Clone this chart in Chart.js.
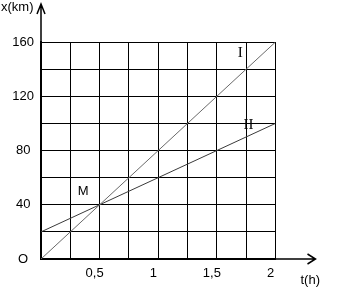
<!DOCTYPE html>
<html>
<head>
<meta charset="utf-8">
<script src="https://cdn.jsdelivr.net/npm/chart.js@4"></script>
<style>
  html, body { margin: 0; padding: 0; background: #fff; }
  #wrap { width: 337px; height: 295px; }
</style>
</head>
<body>
<div id="wrap"><canvas id="graph" width="337" height="295"></canvas></div>
<script>
// --------- Data ---------
const tPoints = [0, 2];          // t (h)
const lineI = [0, 160];          // x (km) for line I
const lineII = [20, 100];        // x (km) for line II
const tTicks = ["", "0,5", "1", "1,5", "2"];  // every 0.5 h
const xTicks = ["O", "40", "80", "120", "160"]; // every 40 km

// text marks on the graph: [label, t, x, font]
const marks = [
  ["I", 1.7, 152, "15px 'Liberation Serif'"],
  ["II", 1.77, 99, "15px 'Liberation Serif'"],
  ["M", 0.36, 50, "13px 'Liberation Sans'"]
];

const toXY = (ys) => tPoints.map((t, i) => ({ x: t, y: ys[i] }));

// --------- Arrows, axis names and labels ---------
const decorPlugin = {
  id: "decor",
  afterDraw(chart) {
    const { ctx, chartArea: a, scales } = chart;
    ctx.save();
    ctx.strokeStyle = "#000";
    ctx.lineWidth = 1.5;

    // vertical axis extension + arrow
    ctx.beginPath();
    ctx.moveTo(a.left, a.top);
    ctx.lineTo(a.left, a.top - 38);
    ctx.moveTo(a.left - 4, a.top - 28);
    ctx.lineTo(a.left, a.top - 38);
    ctx.lineTo(a.left + 4, a.top - 28);
    ctx.stroke();

    // horizontal axis extension + arrow
    ctx.beginPath();
    ctx.moveTo(a.right, a.bottom);
    ctx.lineTo(a.right + 40, a.bottom);
    ctx.moveTo(a.right + 32, a.bottom - 5);
    ctx.lineTo(a.right + 40, a.bottom);
    ctx.lineTo(a.right + 32, a.bottom + 5);
    ctx.stroke();

    ctx.fillStyle = "#000";
    ctx.font = "13px 'Liberation Sans'";
    ctx.textBaseline = "middle";
    ctx.textAlign = "left";
    ctx.fillText("x(km)", 1, a.top - 35);
    ctx.fillText("t(h)", a.right + 25, a.bottom + 21);

    ctx.textAlign = "center";
    marks.forEach(([txt, t, x, font]) => {
      ctx.font = font;
      ctx.fillText(txt, scales.x.getPixelForValue(t), scales.y.getPixelForValue(x));
    });
    ctx.restore();
  }
};

// --------- Chart ---------
new Chart(document.getElementById("graph"), {
  type: "line",
  data: {
    datasets: [
      {
        label: "I",
        data: toXY(lineI),
        borderColor: "#6a6a6a",
        borderWidth: 1,
        pointRadius: 0
      },
      {
        label: "II",
        data: toXY(lineII),
        borderColor: "#3a3a3a",
        borderWidth: 1,
        pointRadius: 0
      }
    ]
  },
  options: {
    responsive: false,
    animation: false,
    layout: { padding: { top: 42, right: 61.5, left: 0, bottom: 0 } },
    plugins: {
      legend: { display: false },
      tooltip: { enabled: false }
    },
    scales: {
      x: {
        type: "linear",
        min: 0,
        max: 2,
        afterFit: (s) => { s.height = 36; },
        grid: { color: "#000", lineWidth: 1, drawTicks: false },
        border: { color: "#000", width: 2 },
        ticks: {
          stepSize: 0.25,
          padding: 7,
          labelOffset: -5,
          color: "#000",
          font: { family: "Liberation Sans", size: 13 },
          callback: (v) => {
            const i = Math.round(v / 0.5);
            return Math.abs(v - i * 0.5) < 1e-9 ? tTicks[i] : "";
          }
        }
      },
      y: {
        min: 0,
        max: 160,
        afterFit: (s) => { s.width = 41; },
        grid: { color: "#000", lineWidth: 1, drawTicks: false },
        border: { color: "#000", width: 2 },
        ticks: {
          stepSize: 20,
          padding: 7,
          crossAlign: "center",
          color: "#000",
          font: { family: "Liberation Sans", size: 13 },
          callback: (v) => (v % 40 === 0 ? xTicks[v / 40] : "")
        }
      }
    }
  },
  plugins: [decorPlugin]
});
</script>
</body>
</html>
